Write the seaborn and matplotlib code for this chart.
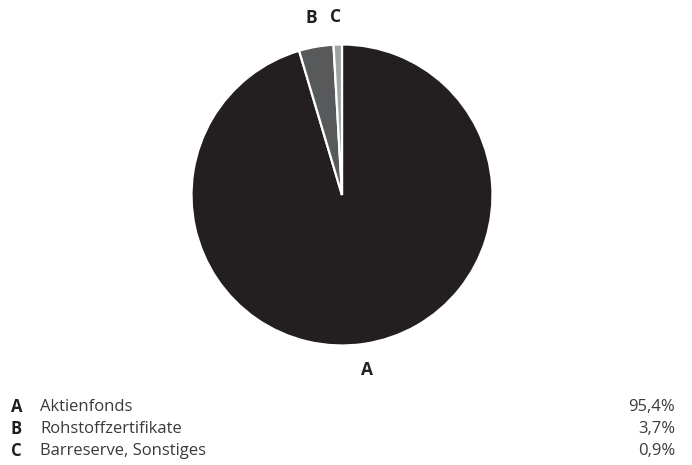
import matplotlib
matplotlib.use("Agg")
import matplotlib.pyplot as plt
import seaborn as sns

# Portfolio allocation
letters = ["A", "B", "C"]
categories = ["Aktienfonds", "Rohstoffzertifikate", "Barreserve, Sonstiges"]
shares = [95.4, 3.7, 0.9]
value_labels = ["95,4%", "3,7%", "0,9%"]
colors = ["#231f20", "#58595b", "#a0a2a5"]

sns.set_theme(style="white")
plt.rcParams["font.family"] = ["Open Sans", "DejaVu Sans"]

W, H = 692, 465
fig = plt.figure(figsize=(W / 100, H / 100), dpi=100)
fig.patch.set_facecolor("white")

def px(x, y):
    return x / W, 1 - y / H

# pie axes: centre (342, 195), radius ~150 px
cx, cy, r = 342, 195, 150.5
ax = fig.add_axes([(cx - r) / W, (H - cy - r) / H, 2 * r / W, 2 * r / H])
ax.pie(shares, colors=colors, startangle=90, counterclock=False,
       wedgeprops=dict(edgecolor="white", linewidth=1.6), radius=1.0)
ax.set_xlim(-1, 1)
ax.set_ylim(-1, 1)
ax.set_aspect("equal")
ax.axis("off")

txt_color = "#231f20"
# slice letters
for (x, y), lab in zip([(367, 370), (311, 18), (336, 17)], letters):
    fig.text(*px(x, y), lab, ha="center", va="center", fontsize=12.5,
             fontweight="bold", color=txt_color)

# legend table
rows_y = [407, 429, 451]
for yy, lab, name, val in zip(rows_y, letters, categories, value_labels):
    fig.text(*px(11, yy), lab, ha="left", va="center", fontsize=12,
             fontweight="bold", color=txt_color)
    fig.text(*px(40, yy), name, ha="left", va="center", fontsize=12,
             color="#3a3a3a")
    fig.text(*px(675, yy), val, ha="right", va="center", fontsize=12,
             color="#3a3a3a")

fig.savefig("out.png", dpi=100, facecolor="white")
